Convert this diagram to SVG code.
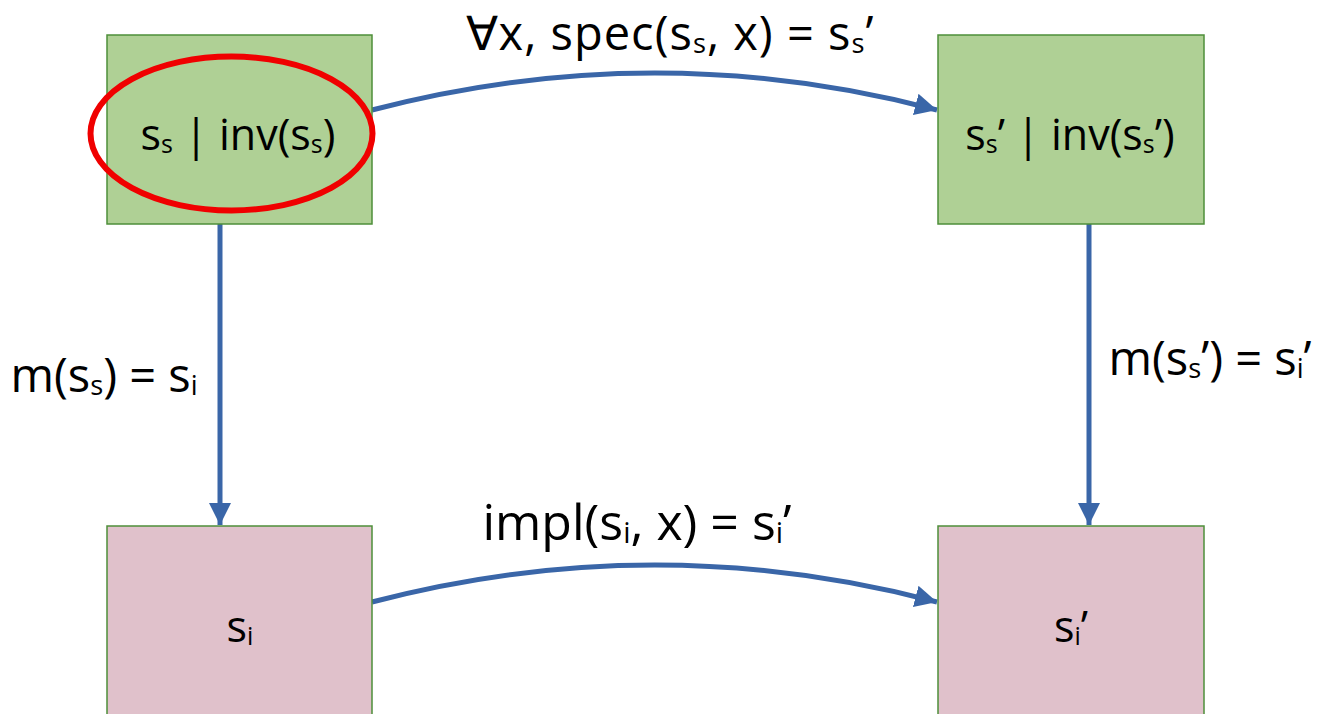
<svg xmlns="http://www.w3.org/2000/svg" width="1318" height="714" viewBox="0 0 1318 714">
<style>
.spec{fill:#AFD095;stroke:#4E8F3A;stroke-width:1.5}
.impl{fill:#E0C1CB;stroke:#4E8F3A;stroke-width:1.5}
.t{font-family:"Open Sans","Noto Sans",sans-serif;fill:#000}
.sub{font-size:0.58em}
.c{fill:none;stroke:#3A66A8;stroke-width:5}
</style>
<defs>
<marker id="ah" markerUnits="userSpaceOnUse" markerWidth="22" markerHeight="22" viewBox="0 0 22 22" refX="22" refY="11" orient="auto">
<path d="M0,0 L22,11 L0,22 Z" fill="#3A66A8"/>
</marker>
</defs>
<g id="connectors">
<path class="c" d="M372,110 Q655,36 937,110" marker-end="url(#ah)"/>
<path class="c" d="M372,602 Q655,528 937,602" marker-end="url(#ah)"/>
<path class="c" d="M220,224 L220,525" marker-end="url(#ah)"/>
<path class="c" d="M1089,224 L1089,525" marker-end="url(#ah)"/>
</g>
<g id="node-ss">
<rect class="spec" x="107" y="35" width="265" height="189"/>
<ellipse cx="231.5" cy="133.5" rx="141" ry="77" fill="none" stroke="#F00000" stroke-width="6"/>
<text class="t" x="238" y="150" font-size="43" text-anchor="middle">s<tspan class="sub" dy="3">s</tspan><tspan dy="-3"> | inv(s</tspan><tspan class="sub" dy="3">s</tspan><tspan dy="-3">)</tspan></text>
</g>
<g id="node-ss2">
<rect class="spec" x="938" y="35" width="266" height="189"/>
<text class="t" x="1070" y="150" font-size="43" text-anchor="middle">s<tspan class="sub" dy="3">s</tspan><tspan dy="-3">’ | inv(s</tspan><tspan class="sub" dy="3">s</tspan><tspan dy="-3">’)</tspan></text>
</g>
<g id="node-si">
<rect class="impl" x="107" y="526" width="265" height="200"/>
<text class="t" x="240" y="642" font-size="43" text-anchor="middle">s<tspan class="sub" dy="3">i</tspan></text>
</g>
<g id="node-si2">
<rect class="impl" x="938" y="526" width="266" height="200"/>
<text class="t" x="1071" y="642" font-size="43" text-anchor="middle">s<tspan class="sub" dy="3">i</tspan><tspan dy="-3">’</tspan></text>
</g>
<g id="labels">
<text class="t" x="670" y="50" font-size="47" letter-spacing="1" text-anchor="middle">∀x, spec(s<tspan class="sub" dy="3">s</tspan><tspan dy="-3">, x) = s</tspan><tspan class="sub" dy="3">s</tspan><tspan dy="-3">’</tspan></text>
<text class="t" x="637" y="540" font-size="50" text-anchor="middle">impl(s<tspan class="sub" dy="3">i</tspan><tspan dy="-3">, x) = s</tspan><tspan class="sub" dy="3">i</tspan><tspan dy="-3">’</tspan></text>
<text class="t" x="104" y="392" font-size="47" text-anchor="middle">m(s<tspan class="sub" dy="3">s</tspan><tspan dy="-3">) = s</tspan><tspan class="sub" dy="3">i</tspan></text>
<text class="t" x="1210" y="375" font-size="47" text-anchor="middle">m(s<tspan class="sub" dy="3">s</tspan><tspan dy="-3">’) = s</tspan><tspan class="sub" dy="3">i</tspan><tspan dy="-3">’</tspan></text>
</g>
</svg>
